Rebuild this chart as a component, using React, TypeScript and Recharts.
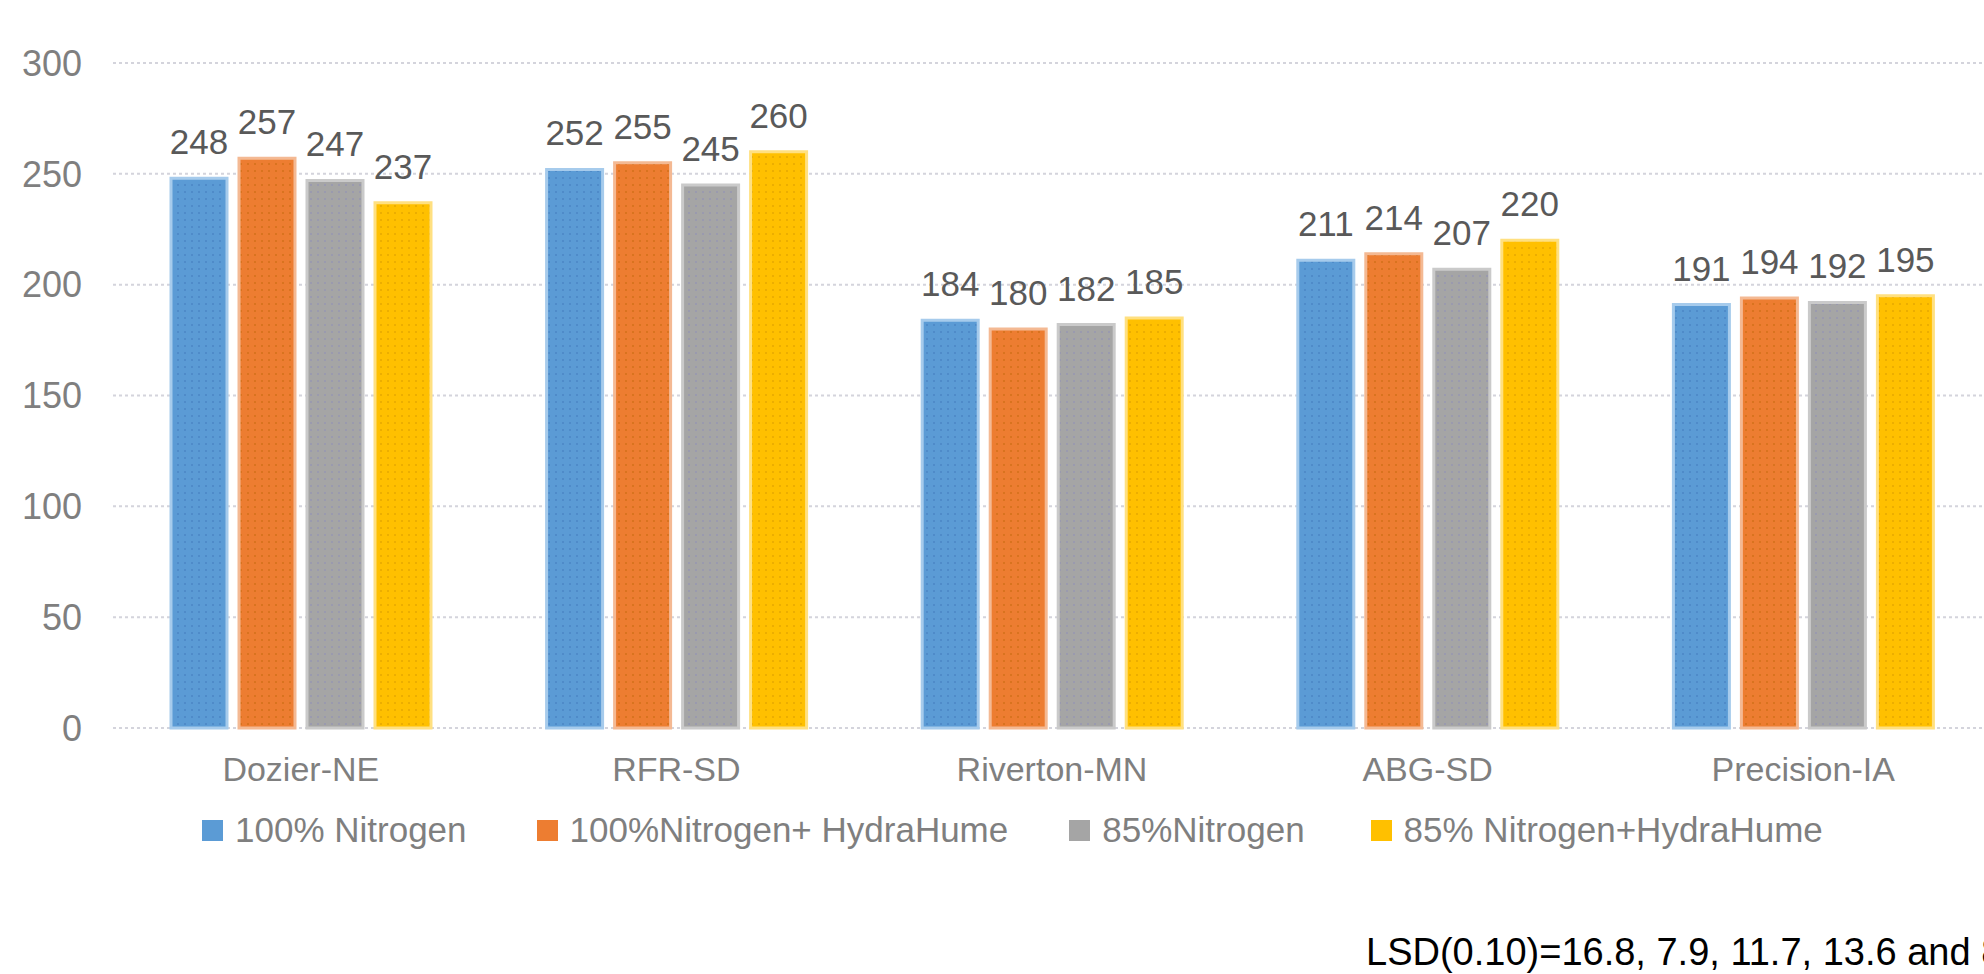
import React from 'react';
import { BarChart, Bar, XAxis, YAxis, CartesianGrid, Legend, LabelList } from 'recharts';

const sites = ['Dozier-NE', 'RFR-SD', 'Riverton-MN', 'ABG-SD', 'Precision-IA'];
const nitrogen100 = [248, 252, 184, 211, 191];
const nitrogen100Hydra = [257, 255, 180, 214, 194];
const nitrogen85 = [247, 245, 182, 207, 192];
const nitrogen85Hydra = [237, 260, 185, 220, 195];
const yTicks = [0, 50, 100, 150, 200, 250, 300];
const lsdNote = 'LSD(0.10)=16.8, 7.9, 11.7, 13.6 and 8.5';

const FONT = '"Liberation Sans", Arial, sans-serif';

const series = [
  { key: 'n100', name: '100% Nitrogen', fill: '#5B9BD5', dot: '#4F8BC9', edge: '#A6CBEC', gap: 70 },
  { key: 'n100h', name: '100%Nitrogen+ HydraHume', fill: '#ED7D31', dot: '#D9731F', edge: '#F4B993', gap: 61 },
  { key: 'n85', name: '85%Nitrogen', fill: '#A5A5A5', dot: '#9A9AAE', edge: '#CACACA', gap: 66 },
  { key: 'n85h', name: '85% Nitrogen+HydraHume', fill: '#FFC000', dot: '#ECAE00', edge: '#FFE080', gap: 0 },
];

const data = sites.map((site, i) => ({
  site,
  n100: nitrogen100[i],
  n100h: nitrogen100Hydra[i],
  n85: nitrogen85[i],
  n85h: nitrogen85Hydra[i],
}));

const renderLegend = () => (
  <div style={{ display: 'flex', alignItems: 'center', fontFamily: FONT, fontSize: 35, color: '#7F7F7F', whiteSpace: 'nowrap' }}>
    {series.map((s) => (
      <div key={s.key} style={{ display: 'flex', alignItems: 'center', marginRight: s.gap }}>
        <span style={{ display: 'inline-block', width: 21, height: 21, background: s.fill, marginRight: 12 }} />
        <span>{s.name}</span>
      </div>
    ))}
  </div>
);

export default function App() {
  return (
    <div style={{ position: 'absolute', left: 0, top: 0, width: 1984, height: 974, overflow: 'hidden', background: '#fff' }}>
      <BarChart
        width={2000}
        height={974}
        data={data}
        margin={{ top: 63, right: 9, bottom: 186, left: 0 }}
        barGap={12}
      >
        <defs>
          {series.map((s) => (
            <pattern key={s.key} id={`dots-${s.key}`} width={7} height={7} patternUnits="userSpaceOnUse">
              <rect width={7} height={7} fill={s.fill} />
              <rect x={2} y={2} width={2} height={2} fill={s.dot} />
            </pattern>
          ))}
        </defs>
        <CartesianGrid vertical={false} stroke="#D4D4DC" strokeWidth={2} strokeDasharray="3 3" />
        <XAxis
          dataKey="site"
          axisLine={false}
          tickLine={false}
          tickSize={0}
          tickMargin={29}
          height={60}
          interval={0}
          tick={{ fill: '#7F7F7F', fontSize: 34, fontFamily: FONT }}
        />
        <YAxis
          width={113}
          domain={[0, 300]}
          ticks={yTicks}
          axisLine={false}
          tickLine={false}
          tickSize={0}
          tickMargin={31}
          tick={{ fill: '#7F7F7F', fontSize: 36, fontFamily: FONT }}
        />
        <Legend
          layout="horizontal"
          verticalAlign="middle"
          align="center"
          wrapperStyle={{ top: 810, left: 202, width: 'auto' }}
          content={renderLegend}
        />
        {series.map((s) => (
          <Bar
            key={s.key}
            dataKey={s.key}
            name={s.name}
            fill={`url(#dots-${s.key})`}
            stroke={s.edge}
            strokeWidth={3}
            barSize={56}
            isAnimationActive={false}
          >
            <LabelList dataKey={s.key} position="top" offset={24} fill="#595959" fontSize={35} fontFamily={FONT} />
          </Bar>
        ))}
      </BarChart>
      <div
        style={{
          position: 'absolute',
          left: 1366,
          top: 933,
          fontFamily: FONT,
          fontSize: 38,
          lineHeight: 1,
          color: '#000',
          whiteSpace: 'nowrap',
        }}
      >
        {lsdNote}
      </div>
    </div>
  );
}
